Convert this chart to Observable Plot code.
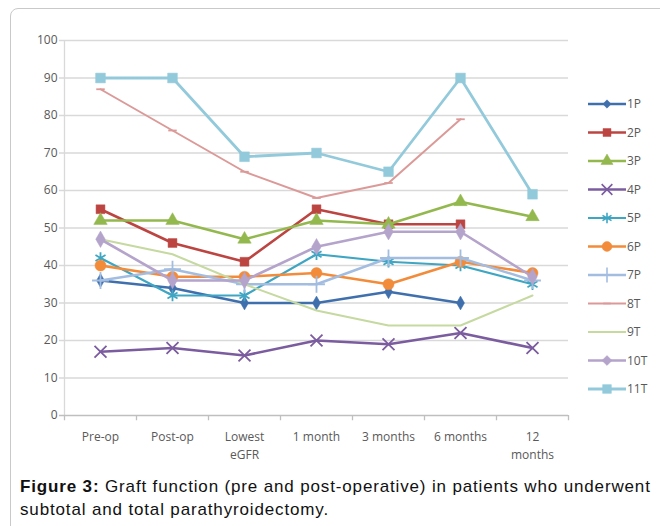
<!DOCTYPE html>
<html>
<head>
<meta charset="utf-8">
<script src="https://cdn.jsdelivr.net/npm/d3@7"></script>
<script src="https://cdn.jsdelivr.net/npm/@observablehq/plot@0.6"></script>
<style>
  html, body { margin: 0; padding: 0; background: #fff; overflow: hidden; width: 660px; height: 526px; }
  #frame { position: absolute; left: 10px; top: 8px; width: 700px; height: 600px; border: 1px solid #c9c9c9; border-radius: 8px; box-sizing: border-box; }
  #chart { position: absolute; left: 0; top: 0; }
  #caption { position: absolute; left: 20px; top: 475px; width: 640px; font-family: "Liberation Sans", Arial, sans-serif; font-size: 17px; letter-spacing: 0.85px; line-height: 23px; color: #111; white-space: nowrap; }
</style>
</head>
<body>
<div id="frame"></div>
<div id="chart"></div>
<div id="caption"><b>Figure 3:</b> Graft function (pre and post-operative) in patients who underwent<br>subtotal and total parathyroidectomy.</div>
<script>
const categories = ["Pre-op", "Post-op", "Lowest\neGFR", "1 month", "3 months", "6 months", "12\nmonths"];
const seriesNames = ["1P", "2P", "3P", "4P", "5P", "6P", "7P", "8T", "9T", "10T", "11T"];
const yTicks = [0, 10, 20, 30, 40, 50, 60, 70, 80, 90, 100];

const s1P  = [36, 34, 30, 30, 33, 30, null];
const s2P  = [55, 46, 41, 55, 51, 51, null];
const s3P  = [52, 52, 47, 52, 51, 57, 53];
const s4P  = [17, 18, 16, 20, 19, 22, 18];
const s5P  = [42, 32, 32, 43, 41, 40, 35];
const s6P  = [40, 37, 37, 38, 35, 41, 38];
const s7P  = [36, 39, 35, 35, 42, 42, 36];
const s8T  = [87, 76, 65, 58, 62, 79, null];
const s9T  = [47, 43, 35, 28, 24, 24, 32];
const s10T = [47, 36, 36, 45, 49, 49, 37];
const s11T = [90, 90, 69, 70, 65, 90, 59];
const seriesValues = [s1P, s2P, s3P, s4P, s5P, s6P, s7P, s8T, s9T, s10T, s11T];

const colors = ["#3f70ad", "#bc4541", "#93b84e", "#7b5c9f", "#3ea6c2", "#f28b3a", "#a3bde0", "#db9a98", "#c5d9a0", "#b4a3cb", "#93cadb"];

const dash = { draw(ctx, size) { const w = Math.sqrt(size) * 0.6; ctx.moveTo(-w, 0); ctx.lineTo(w, 0); } };
const styles = [
  { sym: "diamond", r: 4.2, fill: true, sw: 2.6 },
  { sym: "square", r: 5, fill: true, sw: 2.6 },
  { sym: "triangle", r: 5, fill: true, sw: 2.6 },
  { sym: "times", r: 5.5, fill: false, sw: 2.6 },
  { sym: "asterisk", r: 5.5, fill: false, sw: 2.2 },
  { sym: "circle", r: 5.5, fill: true, sw: 2.6 },
  { sym: "plus", r: 5.5, fill: false, sw: 2.4 },
  { sym: dash, r: 4, fill: false, sw: 2 },
  { sym: null, r: 0, fill: false, sw: 2 },
  { sym: "diamond", r: 5, fill: true, sw: 2.6 },
  { sym: "square", r: 5.5, fill: true, sw: 2.8 }
];

const rows = seriesNames.map((name, k) =>
  seriesValues[k].map((v, i) => ({ series: name, i, v })).filter(d => d.v != null));

const boundaries = d3.range(categories.length + 1).map(i => i - 0.5);
const font = "'Open Sans', 'Liberation Sans', sans-serif";

const marks = [
  Plot.ruleY(yTicks.filter(t => t > 0), { x1: -0.57, x2: categories.length - 0.5, stroke: "#d9d9d9", strokeWidth: 1.3 }),
  Plot.ruleX([-0.5], { y1: 0, y2: 100, stroke: "#d9d9d9", strokeWidth: 1.3 }),
  Plot.ruleY([0], { x1: -0.57, x2: categories.length - 0.5, stroke: "#bfbfbf", strokeWidth: 1.3 }),
  Plot.ruleX(boundaries, { y1: 0, y2: -1.4, stroke: "#bfbfbf", strokeWidth: 1.3 }),
  Plot.axisY({ ticks: yTicks, tickSize: 0, tickPadding: 7, fontSize: 12, color: "#595959", label: null }),
  Plot.axisX({ ticks: d3.range(categories.length), tickFormat: i => categories[i], tickSize: 0, tickPadding: 13, fontSize: 12, lineHeight: 1.5, color: "#595959", label: null })
];

rows.forEach((data, k) => {
  const st = styles[k];
  marks.push(Plot.line(data, { x: "i", y: "v", stroke: colors[k], strokeWidth: st.sw, strokeLinejoin: "round" }));
  if (st.sym) {
    marks.push(Plot.dot(data, {
      x: "i", y: "v", symbol: st.sym, r: st.r,
      fill: st.fill ? colors[k] : "none",
      stroke: colors[k], strokeWidth: st.fill ? 0.5 : 1.8
    }));
  }
});

const chart = Plot.plot({
  width: 660,
  height: 470,
  marginLeft: 64,
  marginRight: 92,
  marginTop: 40,
  marginBottom: 55,
  style: { fontFamily: font, fontSize: "12px", background: "transparent" },
  x: { type: "linear", domain: [-0.5, categories.length - 0.5], axis: null, label: null },
  y: { domain: [0, 100], axis: null, label: null },
  marks
});

// legend
const svg = d3.select(chart);
const lg = svg.append("g").attr("font-family", font).attr("font-size", 12).attr("text-anchor", "start");
seriesNames.forEach((name, k) => {
  const y = 104 + k * 28.5;
  const g = lg.append("g").attr("transform", `translate(0,${y})`);
  g.append("line").attr("x1", 588).attr("x2", 626).attr("y1", 0).attr("y2", 0)
    .attr("stroke", colors[k]).attr("stroke-width", styles[k].sw);
  const st = styles[k];
  if (st.sym) {
    const type = typeof st.sym === "string" ? {
      diamond: d3.symbolDiamond2, square: d3.symbolSquare, triangle: d3.symbolTriangle,
      times: d3.symbolTimes, asterisk: d3.symbolAsterisk, circle: d3.symbolCircle, plus: d3.symbolPlus
    }[st.sym] : st.sym;
    const size = Math.PI * st.r * st.r * 0.8;
    g.append("path").attr("transform", "translate(607,0)").attr("d", d3.symbol(type, size)())
      .attr("fill", st.fill ? colors[k] : "none").attr("stroke", colors[k]).attr("stroke-width", st.fill ? 0.5 : 1.6);
  }
  g.append("text").attr("x", 627).attr("y", 0).attr("dy", "0.35em").attr("fill", "#595959").text(name);
});

document.getElementById("chart").appendChild(chart);
</script>
</body>
</html>
